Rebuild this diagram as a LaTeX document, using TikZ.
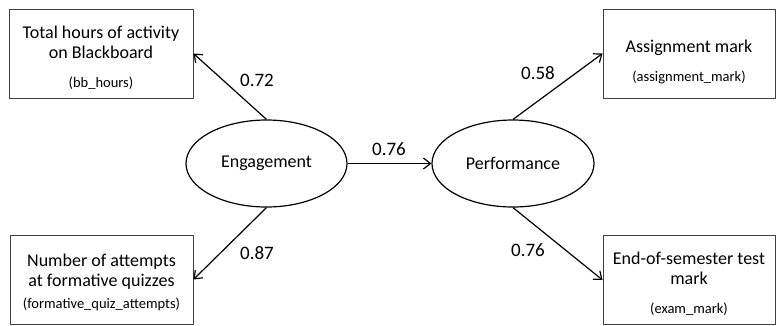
\documentclass[tikz,border=0pt]{standalone}
\usepackage{fontspec}
\setmainfont{Carlito}
\usetikzlibrary{shapes.geometric,arrows.meta}
\begin{document}
\begin{tikzpicture} [
                    x=1pt, y=-1pt,
                    obsvar/.style={draw=black!75, line width=0.9pt, align=center, inner sep=0pt, minimum height=89pt, font=\fontsize{18}{20}\selectfont},
                    latvar/.style={draw, ellipse, line width=1.2pt, minimum width=161pt, minimum height=87pt, inner sep=0pt, font=\fontsize{18}{20}\selectfont},
                    load/.style={-{Straight Barb[length=7pt,width=11pt]}, line width=1.2pt},
                    coef/.style={inner sep=0pt, font=\fontsize{19}{20}\selectfont}
                ]
                \useasboundingbox (0,0) rectangle (777,325);
                % measured variables
                \node [obsvar, minimum width=184pt] (bb) at (101,53.5) {\rule{0pt}{22pt}Total hours of activity\\on Blackboard\\[9pt]{\fontsize{14.5}{16}\selectfont (bb\_hours)}};
                \node [obsvar, minimum width=183pt] (quiz) at (101.5,279.5) {\rule{0pt}{19pt}Number of attempts\\at formative quizzes\\[2pt]{\fontsize{14.5}{16}\selectfont (formative\_quiz\_attempts)}};
                \node [obsvar, minimum width=172pt] (assign) at (689,53.5) {\rule{0pt}{30pt}Assignment mark\\[9pt]{\fontsize{14.5}{16}\selectfont (assignment\_mark)}};
                \node [obsvar, minimum width=172pt] (exam) at (689,280) {\rule{0pt}{19pt}End-of-semester test\\mark\\[9pt]{\fontsize{14.5}{16}\selectfont (exam\_mark)}};
                % latent variables
                \node [latvar] (eng) at (266.5,163.5) {Engagement};
                \node [latvar, minimum width=162pt] (perf) at (513,163.5) {Performance};
                % paths
                \draw [load] (eng.north) -- (bb.east);
                \draw [load] (eng.south) -- (quiz.east);
                \draw [load] (eng.east) -- (perf.west);
                \draw [load] (perf.north) -- (assign.west);
                \draw [load] (perf.south) -- (exam.west);
                \node [coef] (c1) at (257,80) {0.72};
                \node [coef] (c2) at (257,253) {0.87};
                \node [coef] (c3) at (389,149) {0.76};
                \node [coef] (c4) at (538,73) {0.58};
                \node [coef] (c5) at (528,250) {0.76};
                \end{tikzpicture}
\end{document}
